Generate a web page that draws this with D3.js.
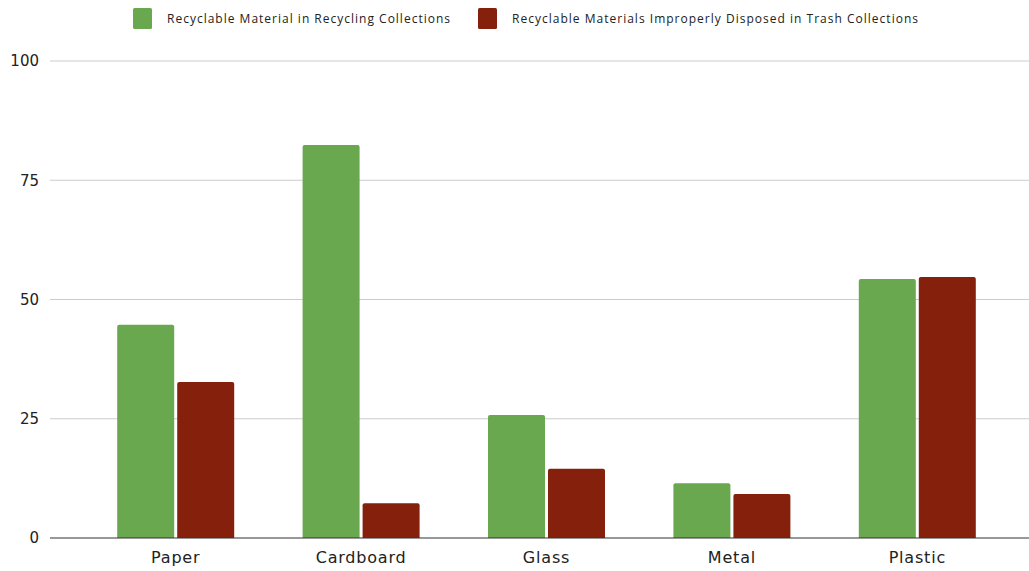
<!DOCTYPE html>
<html>
<head>
<meta charset="utf-8">
<script src="https://cdn.jsdelivr.net/npm/d3@7"></script>
<style>
  html, body { margin: 0; padding: 0; background: #fff; }
  svg { display: block; }
</style>
</head>
<body>
<svg id="chart" width="1029" height="571"></svg>
<script>
// Recyclable materials: share found in recycling vs. improperly in trash
const categories = ["Paper", "Cardboard", "Glass", "Metal", "Plastic"];
const seriesNames = [
  "Recyclable Material in Recycling Collections",
  "Recyclable Materials Improperly Disposed in Trash Collections"
];
const recyclingValues = [44.7, 82.4, 25.8, 11.5, 54.3];
const trashValues = [32.7, 7.3, 14.5, 9.2, 54.7];
const yTicks = [0, 25, 50, 75, 100];
const colors = ["#6aa84f", "#85200c"];

const seriesValues = [recyclingValues, trashValues];

const svg = d3.select("#chart");
const plotLeft = 50, plotRight = 1029, plotTop = 61, plotBottom = 538;

const y = d3.scaleLinear().domain([0, 100]).range([plotBottom, plotTop]);
const x0 = d3.scaleBand().domain(categories).range([83, 1010]).padding(0);
const groupW = 117;
const inset = (x0.bandwidth() - groupW) / 2;
const x1 = d3.scaleBand().domain(d3.range(seriesNames.length))
  .range([inset, inset + groupW]).paddingInner(0.05);

// horizontal gridlines
const grid = svg.append("g");
grid.selectAll("line").data(yTicks.filter(t => t > 0)).join("line")
  .attr("x1", plotLeft).attr("x2", plotRight)
  .attr("y1", d => y(d)).attr("y2", d => y(d))
  .attr("stroke", "#cccccc").attr("stroke-width", 1);

// y tick labels
const yAxis = d3.axisLeft(y).tickValues(yTicks).tickSize(0).tickPadding(11);
const yg = svg.append("g").attr("transform", `translate(${plotLeft},0)`).call(yAxis);
yg.select(".domain").remove();
yg.selectAll("text")
  .attr("font-family", "DejaVu Sans, sans-serif")
  .attr("font-size", 15).attr("fill", "#222");

// bars
const groups = svg.append("g").selectAll("g").data(categories).join("g")
  .attr("transform", d => `translate(${x0(d)},0)`);
groups.selectAll("path").data((c, i) => seriesValues.map((s, k) => ({ k, v: s[i] })))
  .join("path")
  .attr("fill", d => colors[d.k])
  .attr("d", d => {
    const bx = x1(d.k), bw = x1.bandwidth();
    const top = y(d.v), bot = y(0), r = 2;
    return `M${bx},${bot}V${top + r}Q${bx},${top} ${bx + r},${top}H${bx + bw - r}Q${bx + bw},${top} ${bx + bw},${top + r}V${bot}Z`;
  });

// baseline
svg.append("line")
  .attr("x1", plotLeft).attr("x2", plotRight)
  .attr("y1", y(0)).attr("y2", y(0))
  .attr("stroke", "#333").attr("stroke-width", 1.2);

// category axis
const xAxis = d3.axisBottom(x0).tickSize(0).tickPadding(14);
const xg = svg.append("g").attr("transform", `translate(0,${plotBottom})`).call(xAxis);
xg.select(".domain").remove();
xg.selectAll("text")
  .attr("font-family", "DejaVu Sans, sans-serif")
  .attr("font-size", 16).attr("letter-spacing", 0.8).attr("fill", "#222");

// legend
const legendItems = [
  { x: 133, tx: 167, len: 283 },
  { x: 478, tx: 512, len: 406 }
];
const lg = svg.append("g");
seriesNames.forEach((name, i) => {
  lg.append("rect").attr("x", legendItems[i].x).attr("y", 8)
    .attr("width", 19).attr("height", 21).attr("rx", 1.5)
    .attr("fill", colors[i]);
  lg.append("text").attr("x", legendItems[i].tx).attr("y", 23)
    .attr("font-family", "Open Sans, sans-serif")
    .attr("font-size", 12).attr("fill", "#222")
    .attr("textLength", legendItems[i].len).attr("lengthAdjust", "spacing")
    .text(name);
});
</script>
</body>
</html>
